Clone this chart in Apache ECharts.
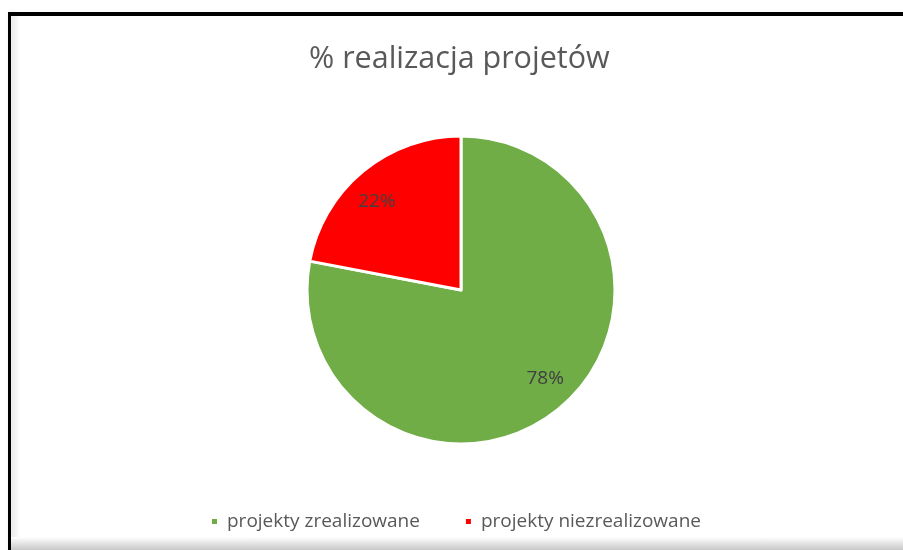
<!DOCTYPE html>
<html>
<head>
<meta charset="utf-8">
<script src="https://cdn.jsdelivr.net/npm/echarts@6/dist/echarts.min.js"></script>
<style>
html, body { margin: 0; padding: 0; background: #fff; }
#frameTop { position: absolute; left: 8px; top: 12px; width: 895px; height: 4px; background: #000; }
#frameLeft { position: absolute; left: 8px; top: 12px; width: 3px; height: 538px; background: #000; box-shadow: 3px 0 6px rgba(0,0,0,0.2); }
#frameBottom { position: absolute; left: 11px; top: 537px; width: 892px; height: 13px; background: linear-gradient(#fff, #c8c8c8); }
#chart { position: absolute; left: 0; top: 0; width: 903px; height: 550px; }
</style>
</head>
<body>
<div id="frameTop"></div>
<div id="frameLeft"></div>
<div id="frameBottom"></div>
<div id="chart"></div>
<script>
// dane wykresu
var categories = ['projekty zrealizowane', 'projekty niezrealizowane'];
var values = [78, 22];
var colors = ['#70AD47', '#FF0000'];

var pieData = categories.map(function (name, i) {
	return { name: name, value: values[i], itemStyle: { color: colors[i] } };
});

var chart = echarts.init(document.getElementById('chart'));
chart.setOption({
	backgroundColor: 'transparent',
	animation: false,
	title: {
		text: '% realizacja projetów',
		left: 304,
		top: 39,
		textStyle: {
			fontFamily: 'Open Sans',
			fontSize: 30.5,
			fontWeight: 'normal',
			color: '#595959'
		}
	},
	legend: {
		data: categories.map(function (name, i) {
			return { name: name, itemStyle: { color: colors[i] } };
		}),
		left: 205,
		top: 507,
		icon: 'rect',
		itemWidth: 7,
		itemHeight: 7,
		itemGap: 44,
		textStyle: {
			fontFamily: 'Open Sans',
			fontSize: 19,
			color: '#595959',
			padding: [0, 0, 0, 4]
		}
	},
	series: [
		{
			type: 'pie',
			center: [461, 290],
			radius: [0, 154],
			startAngle: 90,
			clockwise: true,
			silent: true,
			itemStyle: { borderColor: '#fff', borderWidth: 3 },
			label: { show: false },
			labelLine: { show: false },
			data: pieData
		},
		{
			// niewidoczna seria tylko dla etykiet procentowych
			type: 'pie',
			center: [461, 290],
			radius: [0, 238],
			startAngle: 94,
			clockwise: true,
			silent: true,
			itemStyle: { color: 'transparent', borderWidth: 0 },
			label: {
				show: true,
				position: 'inside',
				formatter: '{c}%',
				fontFamily: 'Open Sans',
				fontSize: 19,
				color: '#404040'
			},
			labelLine: { show: false },
			data: values.map(function (v, i) {
				return { name: categories[i], value: v, itemStyle: { color: 'transparent' } };
			})
		}
	]
});
</script>
</body>
</html>
